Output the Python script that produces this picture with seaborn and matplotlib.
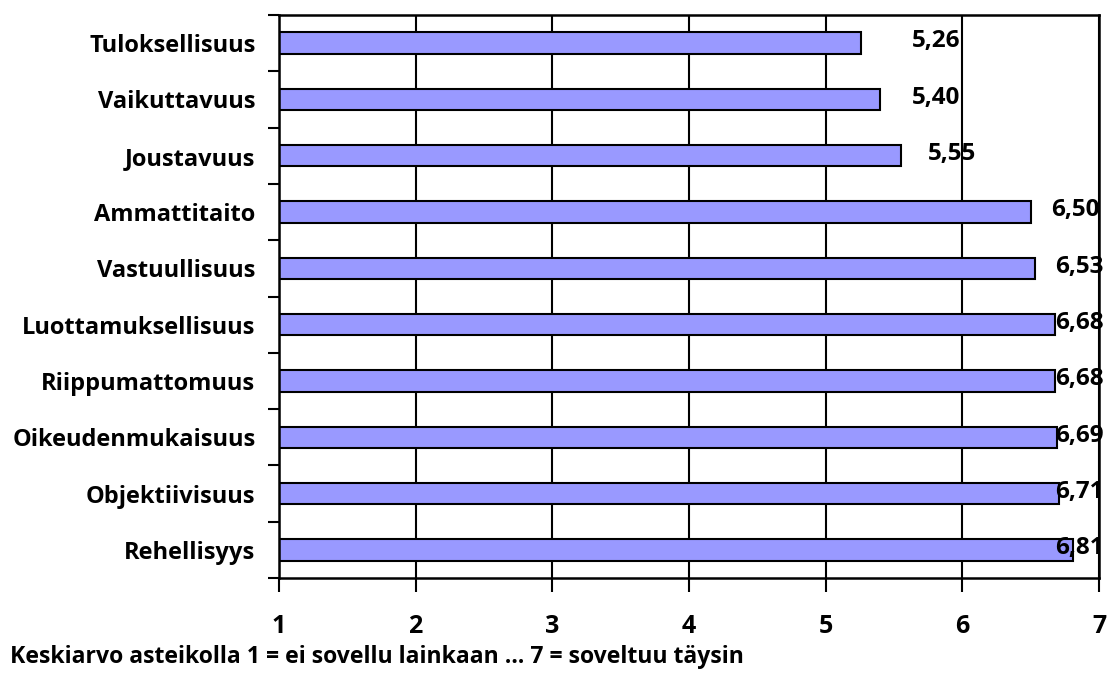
import matplotlib
matplotlib.use("Agg")
import matplotlib.pyplot as plt
import seaborn as sns
import pandas as pd

categories = ["Tuloksellisuus", "Vaikuttavuus", "Joustavuus", "Ammattitaito",
              "Vastuullisuus", "Luottamuksellisuus", "Riippumattomuus",
              "Oikeudenmukaisuus", "Objektiivisuus", "Rehellisyys"]
values = [5.26, 5.40, 5.55, 6.50, 6.53, 6.68, 6.68, 6.69, 6.71, 6.81]
xticks = [1, 2, 3, 4, 5, 6, 7]
footnote = "Keskiarvo asteikolla 1 = ei sovellu lainkaan \u2026 7 = soveltuu täysin"

sns.set_theme(style="white")
plt.rcParams['font.family'] = ['Open Sans', 'DejaVu Sans']
plt.rcParams['font.weight'] = 'bold'
plt.rcParams['text.color'] = 'black'
plt.rcParams['xtick.color'] = 'black'
plt.rcParams['ytick.color'] = 'black'

df = pd.DataFrame({"cat": categories, "val": [v - 1 for v in values]})

fig = plt.figure(figsize=(11.11, 6.73), dpi=100)
ax = fig.add_axes([279/1111, 1 - 578/673, (1099-279)/1111, (578-15)/673])

sns.barplot(data=df, y="cat", x="val", orient="h", color="#9999FF",
            saturation=1, edgecolor="black", linewidth=1.5, width=0.38, ax=ax,
            left=1)

ax.set_xlim(1, 7)
ax.set_ylim(len(categories) - 0.5, -0.5)
ax.set_xticks(xticks)
ax.set_xticklabels([str(t) for t in xticks], fontsize=18, fontweight='bold', color='black')
ax.set_yticks(range(len(categories)))
ax.set_yticklabels(categories, fontsize=17, fontweight='bold', color='black')
ax.set_xlabel("")
ax.set_ylabel("")
for x in xticks:
    ax.axvline(x, color="black", lw=1.5, zorder=0)

ax.set_yticks([i - 0.5 for i in range(len(categories) + 1)], minor=True)
ax.tick_params(axis='y', which='major', left=False, length=0, pad=17)
ax.tick_params(axis='y', which='minor', left=True, length=8, width=1.5,
               color='black', direction='out')
ax.tick_params(axis='x', which='major', bottom=True, length=10, width=1.5,
               color='black', direction='out', pad=16)

for s in ax.spines.values():
    s.set_visible(True)
    s.set_color("black")
    s.set_linewidth(1.8)

# label anchor positions (Excel-style placement, data units)
label_x = [max(v + 0.2, 5.63) if v < 6 else min(v + 0.15, 6.68) for v in values]
for i, (v, lx) in enumerate(zip(values, label_x)):
    ax.text(lx, i - 0.03, f"{v:.2f}".replace(".", ","), fontsize=17.5,
            fontweight='bold', va='center', ha='left', clip_on=False, zorder=5,
            color='black')

fig.text(10/1111, 1 - 657/673, footnote, fontsize=16.6, fontweight='bold',
         va='center', ha='left', color='black')

fig.savefig("out.png", dpi=100)
